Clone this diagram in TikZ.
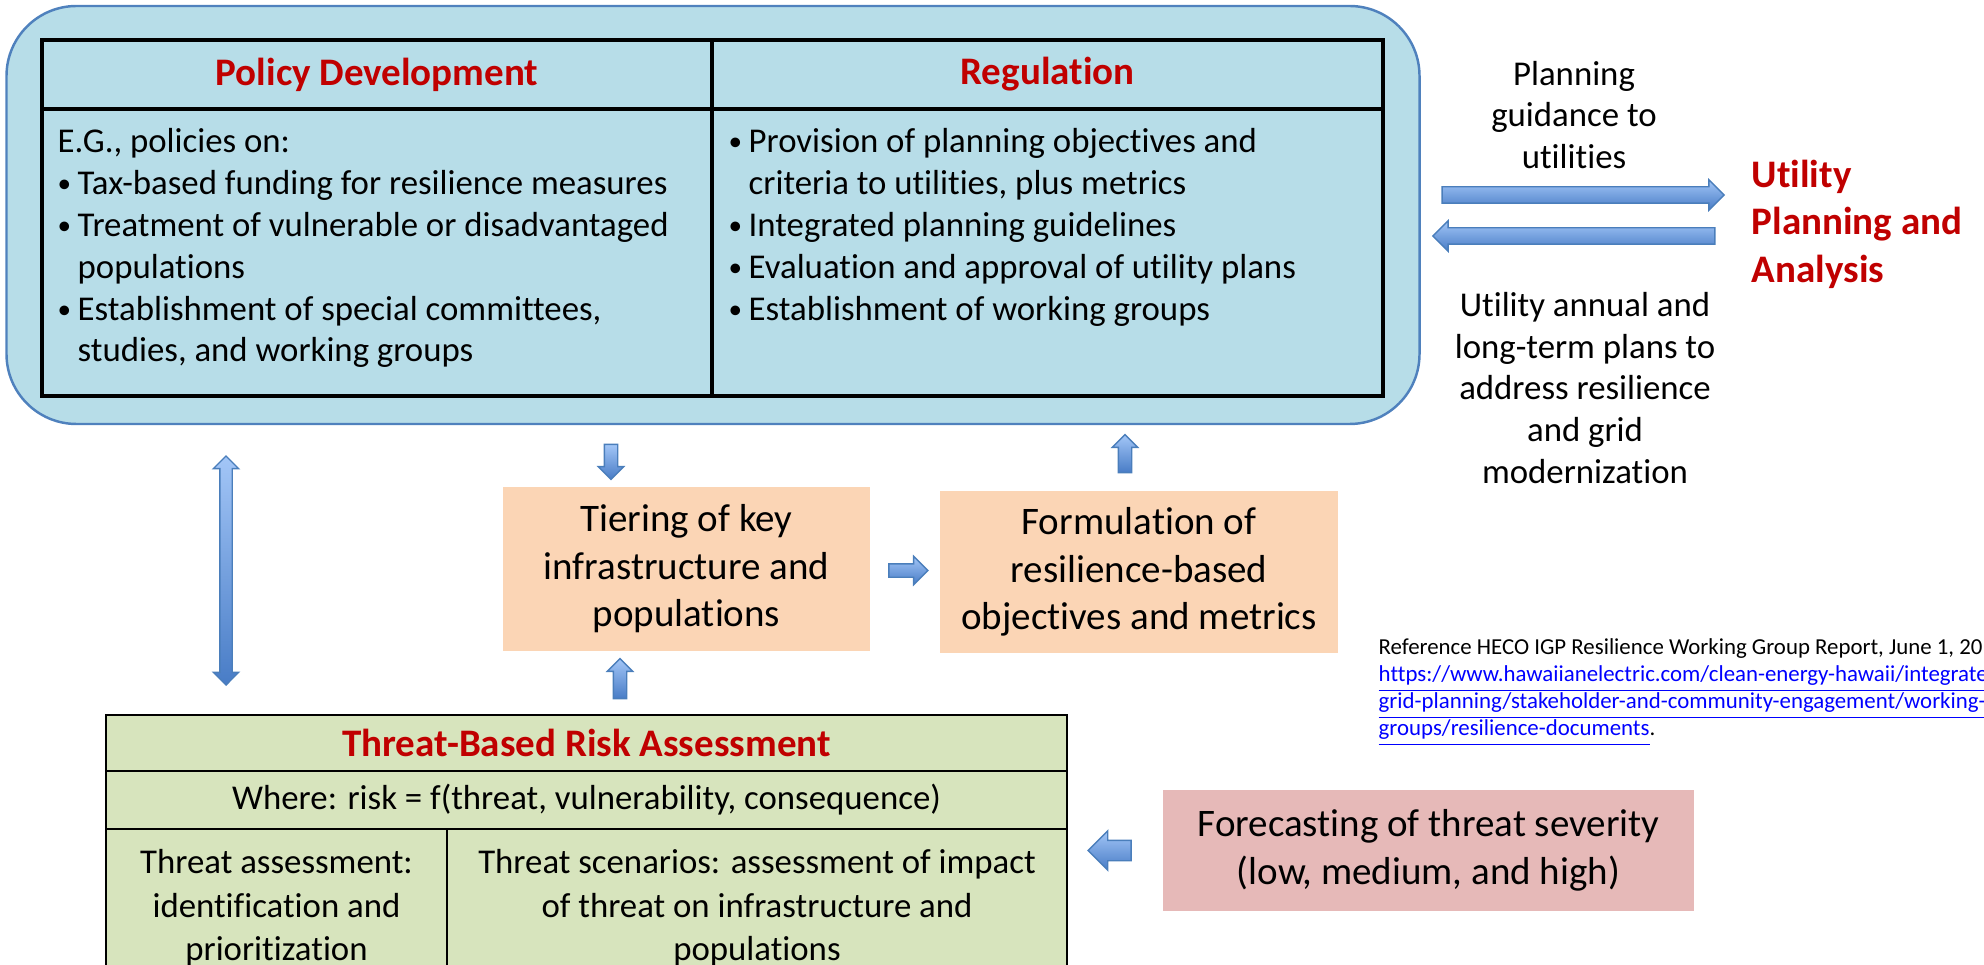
\documentclass[tikz,border=0pt]{standalone}
\usepackage{fontspec}
\setmainfont{Carlito}[Ligatures=NoCommon]
\usepackage{xcolor}
\usepackage{tikz}
\usetikzlibrary{shapes.arrows, positioning, calc}

\definecolor{panelfill}{HTML}{B7DDE8}
\definecolor{paneledge}{HTML}{4F81BD}
\definecolor{headred}{HTML}{C00000}
\definecolor{peach}{HTML}{FBD5B5}
\definecolor{rose}{HTML}{E6B9B8}
\definecolor{olive}{HTML}{D7E4BD}
\definecolor{arrtop}{RGB}{163,198,247}
\definecolor{arrbot}{RGB}{72,124,198}
\definecolor{arredge}{HTML}{4A7EBB}
\definecolor{linkblue}{HTML}{0000FF}

% bullet and hanging indent for the list lines
\newcommand{\blt}{\makebox[0.2cm][l]{\raisebox{0.06em}{\scalebox{0.78}{\textbullet}}}}
\newcommand{\ind}{\hspace*{0.2cm}}

\begin{document}
\begin{tikzpicture}[
    panel/.style={rectangle, draw=paneledge, line width=0.7pt, fill=panelfill, rounded corners=0.7cm},
    cell/.style={rectangle, draw, line width=0.9pt, outer sep=0pt, inner sep=0pt},
    gcell/.style={cell, fill=olive, line width=0.7pt},
    hdr/.style={font=\fontsize{11.1}{13.5}\selectfont\bfseries, text=headred},
    body/.style={font=\fontsize{9.9}{11.9}\selectfont, inner sep=0pt},
    big/.style={font=\fontsize{11.1}{13.5}\selectfont, inner sep=0pt, align=center},
    stepbox/.style={rectangle, fill=peach, minimum height=1.64cm, big},
    blockarr/.style={single arrow, draw=arredge, line width=0.4pt, top color=arrtop, bottom color=arrbot, single arrow head extend=0.06cm, inner sep=0.06cm},
    dblarr/.style={double arrow, draw=arredge, line width=0.4pt, top color=arrtop, bottom color=arrbot, double arrow head extend=0.065cm, inner sep=0.055cm}
]
\useasboundingbox (0,0) rectangle (19.84,-9.65);

% Top panel
\node[panel, minimum width=14.13cm, minimum height=4.18cm] (panel) at (7.13,-2.15) {};

% Policy / regulation table
\node[cell, hdr, minimum width=6.70cm, minimum height=0.69cm, anchor=north west] (polhead) at (0.42,-0.40) {Policy Development};
\node[cell, hdr, minimum width=6.71cm, minimum height=0.69cm, right=0pt of polhead] (reghead) {Regulation};
\node[cell, minimum width=6.70cm, minimum height=2.87cm, below=0pt of polhead] (polbody) {};
\node[cell, minimum width=6.71cm, minimum height=2.87cm, below=0pt of reghead] (regbody) {};

\node[body, align=left, below right=0.19cm and 0.15cm of polbody.north west] (poltext) {E.G., policies on:\\
    \blt Tax-based funding for resilience measures\\
    \blt Treatment of vulnerable or disadvantaged\\
    \ind populations\\
    \blt Establishment of special committees,\\
    \ind studies, and working groups};
\node[body, align=left, below right=0.19cm and 0.16cm of regbody.north west] (regtext) {\blt Provision of planning objectives and\\
    \ind criteria to utilities, plus metrics\\
    \blt Integrated planning guidelines\\
    \blt Evaluation and approval of utility plans\\
    \blt Establishment of working groups};

% Utility side
\node[body, align=center] (guidetext) at (15.74,-1.15) {Planning\\guidance to\\utilities};
\node[blockarr, minimum height=2.82cm, inner sep=0.075cm, single arrow head extend=0.07cm] (guidearr) at (15.79,-1.95) {};
\node[blockarr, shape border rotate=180, minimum height=2.82cm, inner sep=0.075cm, single arrow head extend=0.07cm] (planarr) at (15.78,-2.36) {};
\node[hdr, align=left, anchor=west, inner sep=0pt] (utility) at (17.51,-2.24) {Utility\\Planning and\\Analysis};
\node[body, align=center] (plantext) at (15.85,-3.88) {Utility annual and\\long-term plans to\\address resilience\\and grid\\modernization};

% Middle steps
\node[stepbox, minimum width=3.67cm] (tier) at (6.865,-5.69) {Tiering of key\\infrastructure and\\populations};
\node[stepbox, minimum width=3.98cm, minimum height=1.62cm] (form) at (11.39,-5.72) {Formulation of\\resilience-based\\objectives and metrics};

% Risk assessment table
\node[gcell, hdr, minimum width=9.61cm, minimum height=0.56cm, anchor=north west] (riskhead) at (1.06,-7.15) {Threat-Based Risk Assessment};
\node[gcell, body, minimum width=9.61cm, minimum height=0.58cm, below=0pt of riskhead] (riskdef) {Where: risk = f(threat, vulnerability, consequence)};
\node[gcell, minimum width=3.41cm, minimum height=2.3cm, below right=0pt and 0pt of riskdef.south west] (assess) {};
\node[gcell, minimum width=6.20cm, minimum height=2.3cm, right=0pt of assess] (scen) {};
\node[body, align=center, below=0.2cm of assess.north, font=\fontsize{9.9}{12.3}\selectfont] (assesstext) {Threat assessment:\\identification and\\prioritization};
\node[body, align=center, below=0.2cm of scen.north, font=\fontsize{9.9}{12.3}\selectfont] (scentext) {Threat scenarios: assessment of impact\\of threat on infrastructure and\\populations};

% Forecasting
\node[rectangle, fill=rose, minimum width=5.31cm, minimum height=1.21cm, big] (forecast) at (14.285,-8.505) {Forecasting of threat severity\\(low, medium, and high)};

% Reference note
\node[anchor=north west, align=left, inner sep=0pt, font=\fontsize{6.5}{7.7}\selectfont] (refnote) at (13.78,-6.38) {Reference HECO IGP Resilience Working Group Report, June 1, 20\\
    \textcolor{linkblue}{\underline{https://www.hawaiianelectric.com/clean-energy-hawaii/integrated-}}\\
    \textcolor{linkblue}{\underline{grid-planning/stakeholder-and-community-engagement/working-}}\\
    \textcolor{linkblue}{\underline{groups/resilience-documents}}.};

% Arrows
\node[blockarr, shape border rotate=270, minimum height=0.35cm] (downarr) at (6.11,-4.585) {};
\node[blockarr, shape border rotate=90, minimum height=0.38cm] (uparr) at (11.25,-4.57) {};
\node[dblarr, shape border rotate=90, minimum height=2.29cm] (linkarr) at (2.26,-5.705) {};
\node[blockarr, minimum height=0.39cm, single arrow head extend=0.075cm] (tierarr) at ($(tier.east)!0.5!(form.west)$) {};
\node[blockarr, shape border rotate=90, minimum height=0.40cm] (riskarr) at (6.20,-6.82) {};
\node[blockarr, shape border rotate=180, minimum height=0.43cm, inner sep=0.095cm, single arrow head extend=0.095cm] (forearr) at ($(riskdef.east |- forecast.west)!0.5!(forecast.west)$) {};

\end{tikzpicture}
\end{document}
